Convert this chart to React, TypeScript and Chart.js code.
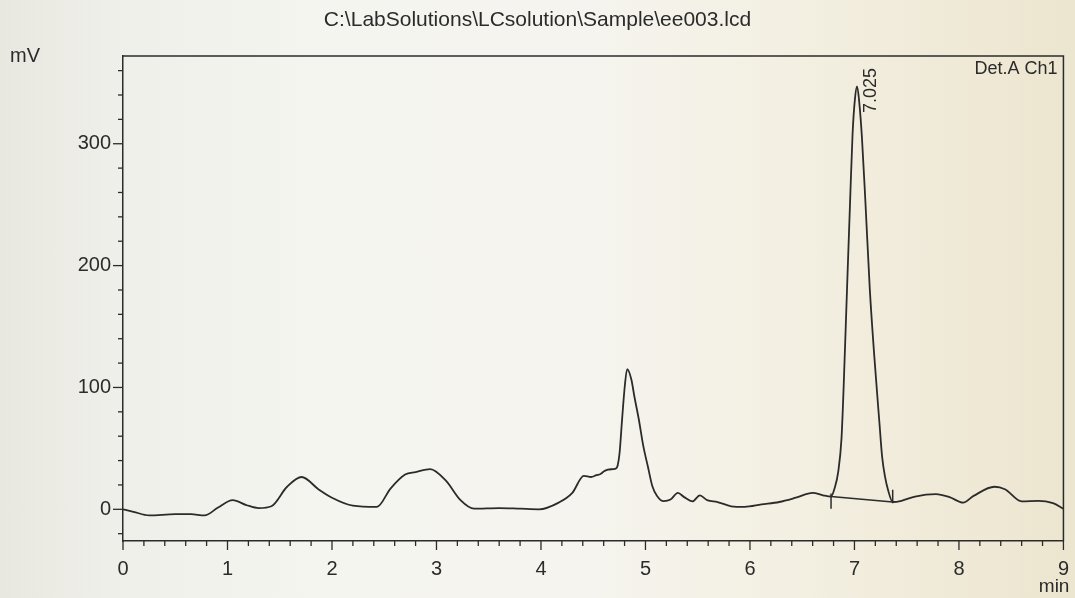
import React, { useEffect, useRef } from 'react';
import { Chart, registerables } from 'chart.js';

Chart.register(...registerables);

// ---- data ----
const retentionTime = [0, 0.1, 0.25, 0.5, 0.65, 0.78, 0.91, 1.05, 1.18, 1.3, 1.42, 1.57, 1.71, 1.87, 2.0, 2.2, 2.43, 2.56, 2.7, 2.8, 2.94, 3.09, 3.23, 3.36, 3.6, 3.8, 3.98, 4.17, 4.3, 4.41, 4.48, 4.53, 4.57, 4.6, 4.64, 4.69, 4.717, 4.734, 4.752, 4.776, 4.802, 4.825, 4.865, 4.893, 4.937, 4.979, 5.022, 5.066, 5.111, 5.174, 5.24, 5.31, 5.37, 5.45, 5.52, 5.59, 5.69, 5.82, 5.95, 6.11, 6.28, 6.44, 6.6, 6.7, 6.776, 6.809, 6.845, 6.876, 6.896, 6.929, 6.958, 6.982, 7.005, 7.025, 7.046, 7.071, 7.105, 7.147, 7.19, 7.239, 7.265, 7.292, 7.321, 7.366, 7.45, 7.58, 7.78, 7.91, 8.04, 8.14, 8.34, 8.44, 8.6, 8.76, 8.9, 9.0];
const detectorSignal = [0, -2, -5, -4, -4, -5, 1.5, 7.5, 3.5, 1, 2.5, 18.5, 26.5, 16.5, 9.5, 3, 2, 17, 28.5, 30.5, 33, 23.5, 7.5, 0.5, 1, 0.5, 0, 5.5, 13.5, 27.5, 26.5, 28, 29, 31, 32.5, 33, 33.5, 36, 46, 73.5, 101, 115, 106.5, 93, 73.5, 52, 35.5, 19, 11, 6.7, 8, 13.5, 10, 6.5, 11.5, 7.5, 6, 2.5, 2, 4, 6, 9.5, 13.5, 11.5, 10.5, 17, 31, 58, 99, 181, 252, 308, 337, 347, 334, 306, 252, 180.5, 125.5, 71, 43, 27, 16, 6, 7, 10.5, 12.5, 10, 5.5, 11, 18.5, 16.5, 6.5, 7, 5, 0.5];

const baselineTime = [6.776, 7.366];
const baselineSignal = [10.5, 6];
const startMarkerTime = [6.776, 6.776];
const startMarkerSignal = [13, 0.5];
const endMarkerTime = [7.366, 7.366];
const endMarkerSignal = [5, 16];

const peakLabel = '7.025';
const peakTime = 7.025;

const xTickValues = [0, 1, 2, 3, 4, 5, 6, 7, 8, 9];
const yTickValues = [0, 100, 200, 300];
const xRange = [0, 9];
const yRange = [-26, 372];
const xMinorStep = 0.2;
const yMinorStep = 20;

const titleText = 'C:\\LabSolutions\\LCsolution\\Sample\\ee003.lcd';
const yUnit = 'mV';
const xUnit = 'min';
const channelText = 'Det.A Ch1';

const INK = '#2b2b2b';
const FONT = "'Liberation Sans', Arial, sans-serif";

const toPoints = (xs: number[], ys: number[]) => xs.map((x, i) => ({ x, y: ys[i] }));

const decorPlugin = {
  id: 'decor',
  afterDraw(chart: any) {
    const { ctx, chartArea: a, scales } = chart;
    const xs = scales.x;
    const ys = scales.y;
    ctx.save();
    ctx.strokeStyle = INK;
    ctx.lineWidth = 1.5;
    // frame: top and right
    ctx.beginPath();
    ctx.moveTo(a.left, a.top);
    ctx.lineTo(a.right, a.top);
    ctx.lineTo(a.right, a.bottom);
    ctx.stroke();

    // x ticks
    ctx.lineWidth = 1.3;
    const nx = Math.round((xRange[1] - xRange[0]) / xMinorStep);
    for (let i = 0; i <= nx; i++) {
      const v = xRange[0] + i * xMinorStep;
      const px = xs.getPixelForValue(v);
      const major = i % 5 === 0;
      ctx.beginPath();
      ctx.moveTo(px, a.bottom);
      ctx.lineTo(px, a.bottom + (major ? 9 : 5));
      ctx.stroke();
    }
    // y ticks
    for (let v = Math.ceil(yRange[0] / yMinorStep) * yMinorStep; v <= yRange[1]; v += yMinorStep) {
      const py = ys.getPixelForValue(v);
      const major = v % 100 === 0;
      ctx.beginPath();
      ctx.moveTo(a.left, py);
      ctx.lineTo(a.left - (major ? 10 : 5), py);
      ctx.stroke();
    }

    // texts
    ctx.fillStyle = INK;
    ctx.textBaseline = 'middle';
    ctx.font = `21px ${FONT}`;
    ctx.textAlign = 'center';
    ctx.fillText(titleText, chart.width / 2, 20);
    ctx.font = `20px ${FONT}`;
    ctx.textAlign = 'left';
    ctx.fillText(yUnit, 10, 56);
    ctx.font = `19px ${FONT}`;
    ctx.textAlign = 'right';
    ctx.fillText(xUnit, a.right + 6, 587);
    ctx.font = `18px ${FONT}`;
    ctx.fillText(channelText, a.right - 6, a.top + 13);

    // peak label (rotated)
    const peakValue = Math.max(...detectorSignal);
    const px = xs.getPixelForValue(peakTime);
    const py = ys.getPixelForValue(peakValue);
    ctx.save();
    ctx.translate(px + 14, py + 4);
    ctx.rotate(-Math.PI / 2);
    ctx.font = `18px ${FONT}`;
    ctx.textAlign = 'center';
    ctx.textBaseline = 'middle';
    ctx.fillText(peakLabel, 0, 0);
    ctx.restore();
    ctx.restore();
  },
};

export default function App() {
  const canvasRef = useRef<HTMLCanvasElement | null>(null);

  useEffect(() => {
    document.body.style.margin = '0';
    document.body.style.overflow = 'hidden';
    const canvas = canvasRef.current;
    if (!canvas) return;
    const lineStyle = {
      borderColor: INK,
      pointRadius: 0,
      fill: false,
    };
    const chart = new Chart(canvas, {
      type: 'line',
      data: {
        datasets: [
          {
            ...lineStyle,
            data: toPoints(retentionTime, detectorSignal),
            borderWidth: 1.8,
            cubicInterpolationMode: 'monotone',
          },
          { ...lineStyle, data: toPoints(baselineTime, baselineSignal), borderWidth: 1.5 },
          { ...lineStyle, data: toPoints(startMarkerTime, startMarkerSignal), borderWidth: 1.5 },
          { ...lineStyle, data: toPoints(endMarkerTime, endMarkerSignal), borderWidth: 1.5 },
        ],
      } as any,
      options: {
        animation: false,
        responsive: false,
        devicePixelRatio: 1,
        layout: { padding: { top: 56, left: 0, right: 11, bottom: 0 } },
        plugins: { legend: { display: false }, tooltip: { enabled: false }, title: { display: false } },
        scales: {
          x: {
            type: 'linear',
            min: xRange[0],
            max: xRange[1],
            afterFit: (s: any) => { s.height = 57; },
            afterBuildTicks: (s: any) => { s.ticks = xTickValues.map((v) => ({ value: v })); },
            border: { display: true, color: INK, width: 1.5 },
            grid: { display: true, drawOnChartArea: false, drawTicks: true, tickLength: 10, color: 'rgba(0,0,0,0)' },
            ticks: {
              color: INK,
              font: { family: FONT, size: 20 },
              padding: 6,
              maxRotation: 0,
              autoSkip: false,
              callback: (v: any) => String(v),
            },
          },
          y: {
            type: 'linear',
            min: yRange[0],
            max: yRange[1],
            afterFit: (s: any) => { s.width = 123; },
            afterBuildTicks: (s: any) => { s.ticks = yTickValues.map((v) => ({ value: v })); },
            border: { display: true, color: INK, width: 1.5 },
            grid: { display: true, drawOnChartArea: false, drawTicks: true, tickLength: 10, color: 'rgba(0,0,0,0)' },
            ticks: {
              color: INK,
              font: { family: FONT, size: 20 },
              padding: 2,
              autoSkip: false,
              callback: (v: any) => String(v),
            },
          },
        },
      } as any,
      plugins: [decorPlugin],
    });
    return () => chart.destroy();
  }, []);

  return (
    <div
      style={{
        width: 1075,
        height: 598,
        background:
          'linear-gradient(90deg, #e8e7e0 0%, #efefe9 10%, #f5f5f0 30%, #f5f4ee 55%, #f3efe1 75%, #ece5cf 100%)',
      }}
    >
      <canvas ref={canvasRef} width={1075} height={598} style={{ display: 'block' }} />
    </div>
  );
}
